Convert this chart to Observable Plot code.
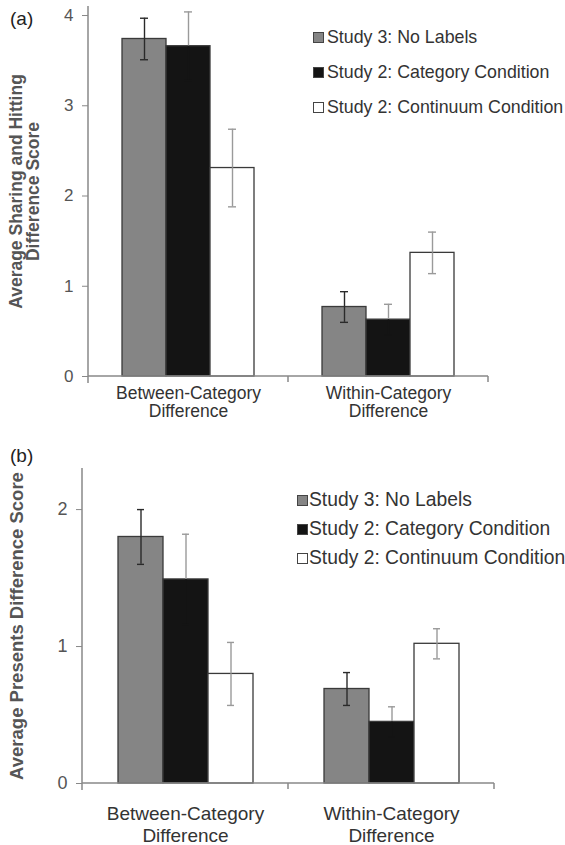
<!DOCTYPE html>
<html><head><meta charset="utf-8">
<script src="https://cdn.jsdelivr.net/npm/d3@7"></script>
<script src="https://cdn.jsdelivr.net/npm/@observablehq/plot@0.6"></script>
<style>
body{margin:0;background:#fff;font-family:"Liberation Sans",Arial,sans-serif;}
#wrap{position:relative;width:565px;height:845px;overflow:hidden;background:#fff;}
.panel{position:absolute;left:0;}
.lab{position:absolute;left:10px;font-size:19px;color:#222;line-height:20px;}
.row{position:absolute;display:flex;align-items:center;white-space:nowrap;color:#333;height:20px;line-height:20px;}
.sw{display:inline-block;width:9px;height:9px;border:1px solid #444;flex:none;}
</style></head><body><div id="wrap"></div>
<script>
// ---- data ----
const categories = ["Between-Category\nDifference", "Within-Category\nDifference"];
const series = ["Study 3: No Labels", "Study 2: Category Condition", "Study 2: Continuum Condition"];

// Panel (a): Average Sharing and Hitting Difference Score
const a_noLabels = [3.74, 0.77];
const a_noLabelsErr = [0.23, 0.17];
const a_category = [3.66, 0.63];
const a_categoryErr = [0.38, 0.17];
const a_continuum = [2.31, 1.37];
const a_continuumErr = [0.43, 0.23];
const a_yTicks = [0, 1, 2, 3, 4];

// Panel (b): Average Presents Difference Score
const b_noLabels = [1.80, 0.69];
const b_noLabelsErr = [0.20, 0.12];
const b_category = [1.49, 0.45];
const b_categoryErr = [0.33, 0.11];
const b_continuum = [0.80, 1.02];
const b_continuumErr = [0.23, 0.11];
const b_yTicks = [0, 1, 2];

// ---- styles ----
const seriesFill = ["#858585", "#141414", "#ffffff"];
const errUpper = ["#2a2a2a", "#9a9a9a", "#9a9a9a"];
const errLower = ["#2a2a2a", "#141414", "#9a9a9a"];
const FONT = '"Liberation Sans", Arial, sans-serif';

function makePanel(o) {
  const rows = categories.flatMap((c, i) => series.map((s, j) => ({
    cat: c, series: s, idx: j, value: o.values[j][i], err: o.errs[j][i]
  })));
  const chart = Plot.plot({
    width: 565, height: o.height,
    marginLeft: o.ml, marginRight: o.mr, marginTop: o.mt, marginBottom: o.mb,
    style: {fontFamily: FONT, background: "#fff", overflow: "visible"},
    fx: {domain: categories, padding: 0},
    x: {domain: series, paddingInner: 0, paddingOuter: 0.75, axis: null},
    y: {domain: o.yDomain},
    color: {type: "identity"},
    marks: [
      Plot.barY(rows, {fx: "cat", x: "series", y: "value", fill: d => seriesFill[d.idx], stroke: "#3a3a3a", strokeWidth: 1.3}),
      Plot.ruleX(rows, {fx: "cat", x: "series", y1: d => d.value, y2: d => d.value + d.err, stroke: d => errUpper[d.idx], strokeWidth: 1.4}),
      Plot.ruleX(rows, {fx: "cat", x: "series", y1: d => d.value - d.err, y2: d => d.value, stroke: d => errLower[d.idx], strokeWidth: 1.4}),
      Plot.tickY(rows, {fx: "cat", x: "series", y: d => d.value + d.err, stroke: d => errUpper[d.idx], strokeWidth: 1.4, inset: o.capInset}),
      Plot.tickY(rows, {fx: "cat", x: "series", y: d => d.value - d.err, stroke: d => errLower[d.idx], strokeWidth: 1.4, inset: o.capInset}),
      Plot.axisY({ticks: o.yTicks, tickSize: 6, tickPadding: 9, stroke: "#888", fill: "#555", fontSize: o.tickFont, label: null, tickFormat: d => String(d)}),
      Plot.axisFx({anchor: "bottom", tickSize: 0, tickPadding: o.fxPad, fontSize: o.catFont, lineHeight: o.catLH, fill: "#333", label: null}),
      Plot.text([{cat: categories[0], t: o.yLabel}], {fx: "cat", text: "t", frameAnchor: "left", rotate: -90, dx: o.yLabelDx,
        fontSize: o.yLabelFont, fontWeight: "bold", fill: "#555", lineHeight: o.yLabelLH, textAnchor: "middle", lineAnchor: "middle"})
    ]
  });
  // axis lines and category-boundary ticks drawn from the plot's own scales
  const sfx = chart.scale("fx"), sy = chart.scale("y");
  const x0 = sfx.range[0], x1 = sfx.range[1];
  const y0 = sy.apply(0), yTop = sy.apply(o.yDomain[1]);
  const g = d3.select(chart).append("g").attr("stroke", "#888").attr("stroke-width", 1.5);
  g.append("line").attr("x1", x0).attr("x2", x0).attr("y1", yTop).attr("y2", y0 + 7);
  g.append("line").attr("x1", x0).attr("x2", x1).attr("y1", y0).attr("y2", y0);
  for (let i = 1; i <= categories.length; i++) {
    const xb = x0 + i * (x1 - x0) / categories.length;
    g.append("line").attr("x1", xb).attr("x2", xb).attr("y1", y0).attr("y2", y0 + 6);
  }
  return chart;
}

const wrap = document.getElementById("wrap");

function addPanel(el, top) {
  el.classList.add("panel");
  el.style.top = top + "px";
  wrap.appendChild(el);
}

addPanel(makePanel({
  values: [a_noLabels, a_category, a_continuum],
  errs: [a_noLabelsErr, a_categoryErr, a_continuumErr],
  yDomain: [0, 4.1], yTicks: a_yTicks, height: 426,
  ml: 88, mr: 77, mt: 6, mb: 50, capInset: 18,
  tickFont: 17, catFont: 17.5, catLH: 1.02, fxPad: 10,
  yLabel: "Average Sharing and Hitting\nDifference Score", yLabelDx: -63, yLabelFont: 17.5, yLabelLH: 0.97
}), 0);

addPanel(makePanel({
  values: [b_noLabels, b_category, b_continuum],
  errs: [b_noLabelsErr, b_categoryErr, b_continuumErr],
  yDomain: [0, 2.3], yTicks: b_yTicks, height: 419,
  ml: 82, mr: 71, mt: 42, mb: 62, capInset: 19,
  tickFont: 18, catFont: 19, catLH: 1.15, fxPad: 21,
  yLabel: "Average Presents Difference Score", yLabelDx: -65, yLabelFont: 18.5, yLabelLH: 1
}), 426);

// panel letters
function addLabel(text, top) {
  const d = document.createElement("div");
  d.className = "lab"; d.textContent = text; d.style.top = top + "px";
  wrap.appendChild(d);
}
addLabel("(a)", 9);
addLabel("(b)", 446);

// legends
function addLegend(left, centers, fontSize, gap) {
  series.forEach((s, j) => {
    const r = document.createElement("div");
    r.className = "row";
    r.style.left = left + "px";
    r.style.top = (centers[j] - 10) + "px";
    r.style.fontSize = fontSize + "px";
    const sw = document.createElement("span");
    sw.className = "sw";
    sw.style.background = seriesFill[j];
    sw.style.marginRight = gap + "px";
    const t = document.createElement("span");
    t.textContent = s;
    r.appendChild(sw); r.appendChild(t);
    wrap.appendChild(r);
  });
}
addLegend(313, [37, 72, 107], 17.8, 3);
addLegend(297, [500, 529, 558], 19.3, 1);
</script></body></html>
